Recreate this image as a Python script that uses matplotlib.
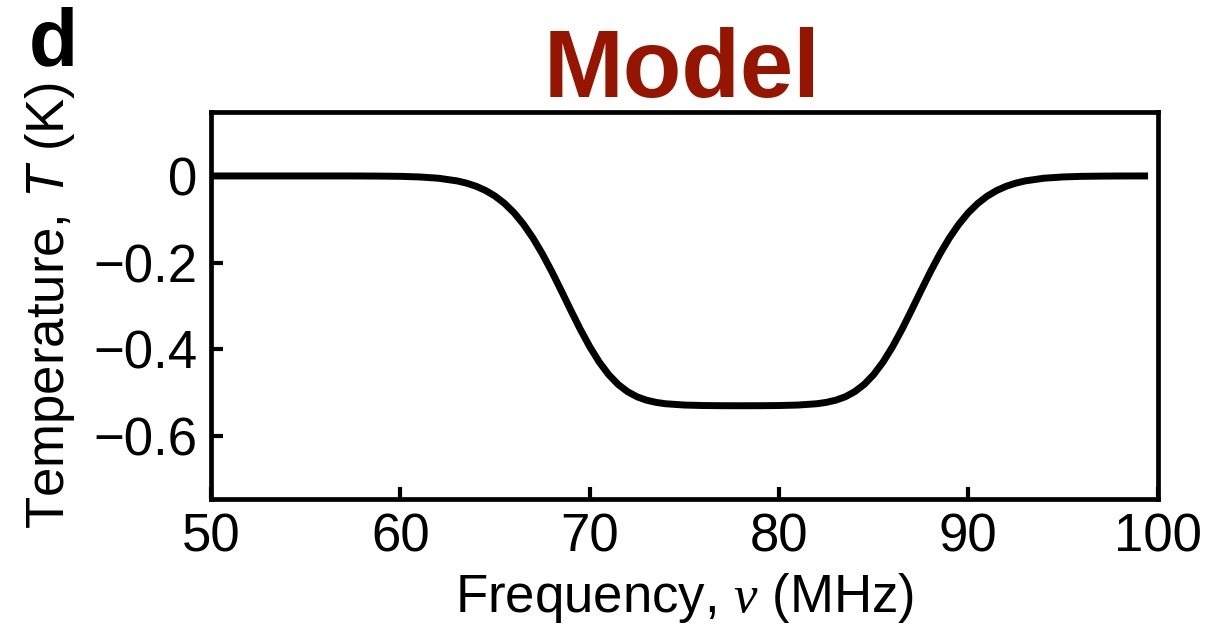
import matplotlib
matplotlib.use("Agg")
import matplotlib.pyplot as plt

plt.rcParams["font.family"] = ["Liberation Sans", "DejaVu Sans"]
plt.rcParams["mathtext.fontset"] = "custom"
plt.rcParams["mathtext.rm"] = "Liberation Sans"
plt.rcParams["mathtext.it"] = "Liberation Sans:italic"
plt.rcParams["mathtext.bf"] = "Liberation Serif:italic"
plt.rcParams["axes.unicode_minus"] = True

# Model absorption profile: frequency (MHz) and brightness temperature (K)
freq_mhz = [50, 51, 52, 53, 54, 55, 56, 57, 58, 59, 60, 61, 62, 63, 63.5, 64,
            64.5, 65, 65.5, 66, 66.5, 67, 67.5, 68, 68.5, 69, 69.5, 70, 70.5,
            71, 71.5, 72, 72.5, 73, 73.5, 74, 75, 76, 77, 78, 79, 80, 81, 82,
            82.5, 83, 83.5, 84, 84.5, 85, 85.5, 86, 86.5, 87, 87.5, 88, 88.5,
            89, 89.5, 90, 90.5, 91, 91.5, 92, 92.5, 93, 94, 95, 96, 97, 98,
            99, 99.5]
temp_k = [0.0, 0.0, 0.0, 0.0, 0.0, 0.0, 0.0, 0.0, -0.0001, -0.0004, -0.0009,
          -0.0023, -0.0052, -0.0115, -0.0167, -0.0239, -0.0336, -0.0466,
          -0.0635, -0.0849, -0.1115, -0.1432, -0.1800, -0.2211, -0.2650,
          -0.3099, -0.3536, -0.3939, -0.4291, -0.4582, -0.4809, -0.4976,
          -0.5094, -0.5172, -0.5222, -0.5254, -0.5284, -0.5295, -0.5299,
          -0.5300, -0.5299, -0.5295, -0.5284, -0.5254, -0.5222, -0.5172,
          -0.5094, -0.4976, -0.4809, -0.4582, -0.4291, -0.3939, -0.3536,
          -0.3099, -0.2650, -0.2211, -0.1800, -0.1432, -0.1115, -0.0849,
          -0.0635, -0.0466, -0.0336, -0.0239, -0.0167, -0.0115, -0.0052,
          -0.0023, -0.0009, -0.0004, -0.0001, 0.0, 0.0]

x_ticks = [50, 60, 70, 80, 90, 100]
y_ticks = [0, -0.2, -0.4, -0.6]
y_tick_labels = ["0", "\u22120.2", "\u22120.4", "\u22120.6"]

fig = plt.figure(figsize=(12.07, 6.34), dpi=100)
ax = fig.add_axes([0.175, 0.213, 0.784, 0.610])

ax.plot(freq_mhz, temp_k, color="black", lw=5.0, solid_capstyle="butt")

ax.set_xlim(50, 100)
ax.set_ylim(-0.745, 0.147)
ax.set_xticks(x_ticks)
ax.set_yticks(y_ticks)
ax.set_yticklabels(y_tick_labels)

for side in ("top", "right", "left", "bottom"):
    ax.spines[side].set_linewidth(3.4)
ax.tick_params(axis="both", direction="in", length=8.5, width=3.0,
               labelsize=38, pad=10, top=False, right=False)

ax.set_xlabel("Frequency, $\\mathbf{\u03bd}$ (MHz)", fontsize=38, labelpad=6)
ax.set_ylabel("Temperature, $\\mathit{T}$ (K)", fontsize=38, labelpad=12)

fig.text(0.024, 0.897, "d", fontsize=58, fontweight="bold", color="black",
         ha="left", va="baseline")
fig.text(0.565, 0.847, "Model", fontsize=69, fontweight="bold",
         color="#961500", ha="center", va="baseline")

fig.savefig("out.png", dpi=100, facecolor="white")
